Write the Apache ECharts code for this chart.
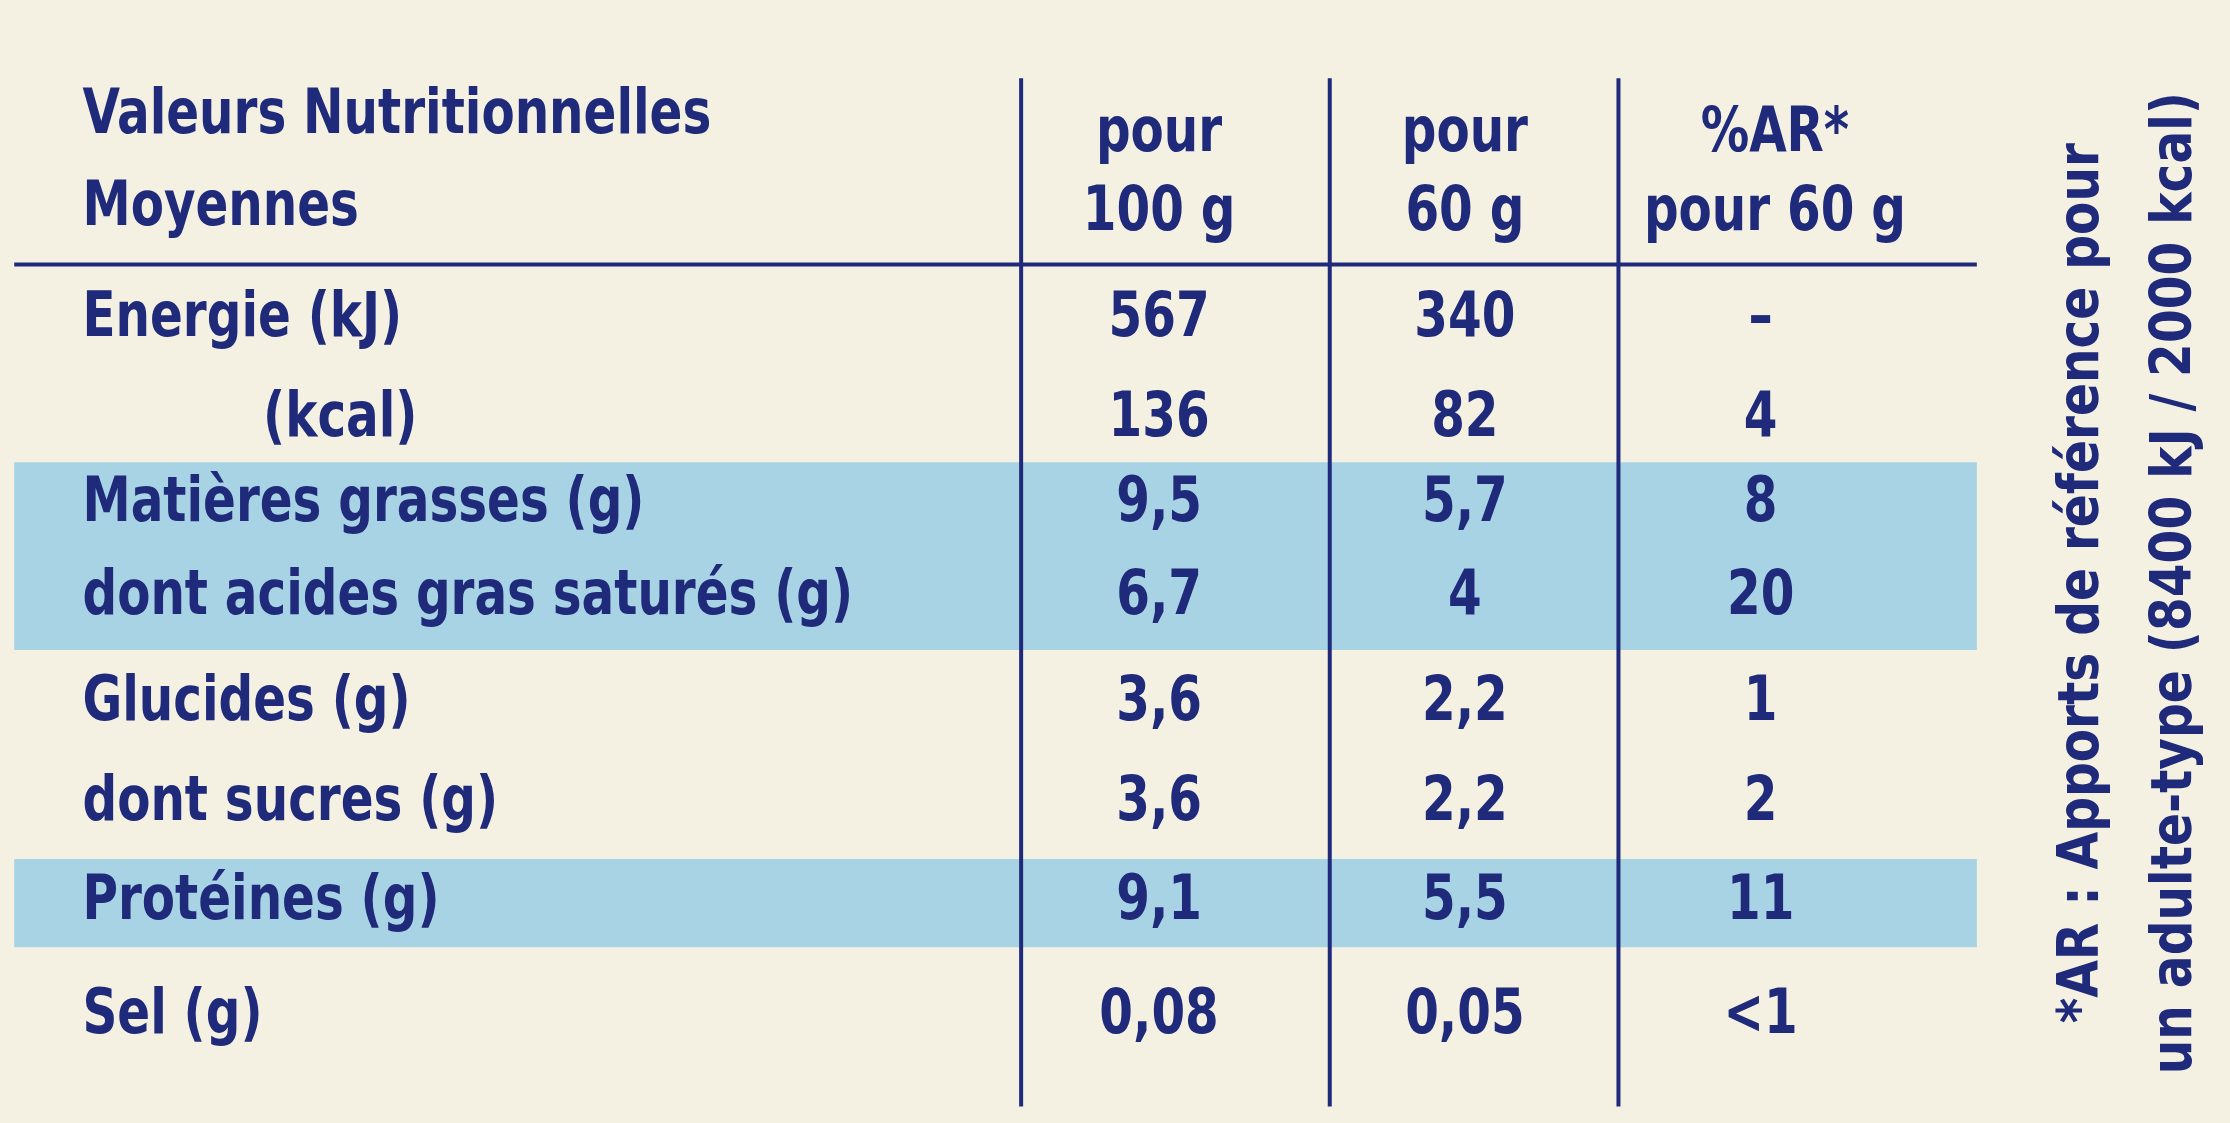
<!DOCTYPE html>
<html><head><meta charset="utf-8">
<script src="https://cdn.jsdelivr.net/npm/echarts@6/dist/echarts.min.js"></script>
<style>html,body{margin:0;padding:0;background:#f4f0e2}#c{width:2230px;height:1123px}</style>
</head><body><div id="c"></div>
<script>
const headers = [["Valeurs Nutritionnelles","Moyennes"],["pour","100 g"],["pour","60 g"],["%AR*","pour 60 g"]];
const labels = ["Energie (kJ)","(kcal)","Matières grasses (g)","dont acides gras saturés (g)","Glucides (g)","dont sucres (g)","Protéines (g)","Sel (g)"];
const per100 = ["567","136","9,5","6,7","3,6","3,6","9,1","0,08"];
const per60 = ["340","82","5,7","4","2,2","2,2","5,5","0,05"];
const ar = ["–","4","8","20","1","2","11","<1"];
const footnote = ["*AR : Apports de référence pour","un adulte-type (8400 kJ / 2000 kcal)"];

const S = 2230/1568;
const navy = '#1f2a7a';
const font = '"Liberation Sans Narrow","DejaVu Sans Condensed",sans-serif';
const fs = 44*S;
const rowY = [225,295,355,420,495,565,635,715];
const labelX = [58,185,58,58,58,58,58,58];
const colX = [815,1030,1238];
const g = [];
function txt(x,y,t,align){g.push({type:'text',x:x*S,y:y*S,scaleX:0.86,style:{text:t,fill:navy,font:'bold '+fs+'px '+font,textAlign:align,textVerticalAlign:'middle'}});}
g.push({type:'rect',shape:{x:10*S,y:325*S,width:1380*S,height:132*S},style:{fill:'#a8d3e4'}});
g.push({type:'rect',shape:{x:10*S,y:604*S,width:1380*S,height:62*S},style:{fill:'#a8d3e4'}});
g.push({type:'line',shape:{x1:10*S,y1:186*S,x2:1390*S,y2:186*S},style:{stroke:navy,lineWidth:4}});
[718,935,1138].forEach(x=>g.push({type:'line',shape:{x1:x*S,y1:55*S,x2:x*S,y2:778*S},style:{stroke:navy,lineWidth:4}}));
txt(58,82,headers[0][0],'left');txt(58,147,headers[0][1],'left');
[1,2,3].forEach(i=>{const cx=colX[i-1]+(i==3?10:0);txt(cx,95,headers[i][0],'center');txt(cx,150,headers[i][1],'center');});
labels.forEach((l,i)=>{txt(labelX[i],rowY[i],l,'left');txt(colX[0],rowY[i],per100[i],'center');txt(colX[1],rowY[i],per60[i],'center');txt(colX[2],rowY[i],ar[i],'center');});
footnote.forEach((t,i)=>{g.push({type:'text',x:(1465+i*65)*S,y:410*S,rotation:Math.PI/2,scaleX:0.95,style:{text:t,fill:navy,font:'bold '+(40*S)+'px '+font,textAlign:'center',textVerticalAlign:'middle'}});});
const chart = echarts.init(document.getElementById('c'));
chart.setOption({backgroundColor:'#f4f0e2',graphic:g});
</script></body></html>
